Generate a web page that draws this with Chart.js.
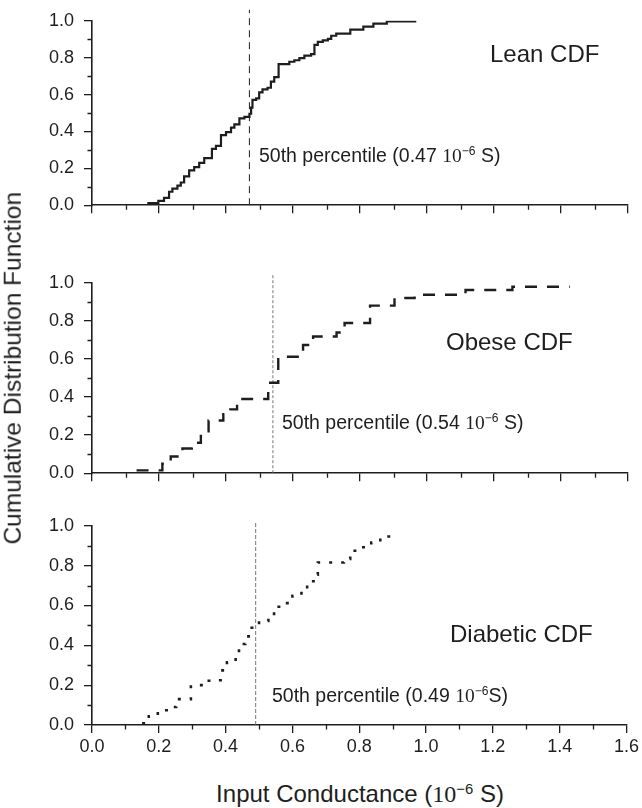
<!DOCTYPE html>
<html><head><meta charset="utf-8">
<script src="https://cdn.jsdelivr.net/npm/chart.js@4.4.1/dist/chart.umd.min.js"></script>
<style>
body{margin:0;background:#fff;width:642px;height:808px;position:relative;overflow:hidden;font-family:"Liberation Sans",Arial,sans-serif;color:#1e1e1e;}
.pc{position:absolute;left:0;width:642px;}
.t{position:absolute;white-space:nowrap;line-height:1;}
.ser{font-family:"Liberation Serif","Times New Roman",serif;}
.sup{font-size:0.62em;position:relative;top:-0.55em;}
</style></head><body>
<div class="pc" style="top:0px;height:226px"><canvas id="c0" width="642" height="226"></canvas></div>
<div class="pc" style="top:262px;height:232px"><canvas id="c1" width="642" height="232"></canvas></div>
<div class="pc" style="top:505px;height:260px"><canvas id="c2" width="642" height="260"></canvas></div>

<div class="t" style="left:490px;top:42px;font-size:24px">Lean CDF</div>
<div class="t" style="left:446px;top:330px;font-size:24px">Obese CDF</div>
<div class="t" style="left:450px;top:622px;font-size:24px">Diabetic CDF</div>

<div class="t" style="left:259px;top:146px;font-size:19.5px">50th percentile (0.47 <span class="ser">10</span><span class="sup">&minus;6</span> S)</div>
<div class="t" style="left:282px;top:413px;font-size:19.5px">50th percentile (0.54 <span class="ser">10</span><span class="sup">&minus;6</span> S)</div>
<div class="t" style="left:272px;top:686px;font-size:19.5px">50th percentile (0.49 <span class="ser">10</span><span class="sup">&minus;6</span>S)</div>

<div class="t" style="left:360px;top:782px;font-size:24px;transform:translateX(-50%)">Input Conductance (<span class="ser">10</span><span class="sup">&minus;6</span> S)</div>
<div class="t" style="left:-167px;top:356px;width:360px;text-align:center;font-size:24.5px;transform:rotate(-90deg)">Cumulative Distribution Function</div>

<script>
const xTickValues = [0, 0.2, 0.4, 0.6, 0.8, 1.0, 1.2, 1.4, 1.6];
const yTickValues = [0, 0.2, 0.4, 0.6, 0.8, 1.0];

const leanX = [0.165,0.198,0.215,0.230,0.240,0.255,0.265,0.275,0.290,0.305,0.320,0.335,0.358,0.370,0.385,0.400,0.415,0.425,0.440,0.455,0.470,0.475,0.479,0.490,0.499,0.509,0.524,0.534,0.544,0.557,0.589,0.604,0.619,0.634,0.654,0.664,0.674,0.689,0.704,0.714,0.729,0.771,0.810,0.840,0.880,0.968];
const leanP = [0.011,0.023,0.040,0.073,0.090,0.106,0.123,0.156,0.189,0.206,0.230,0.255,0.305,0.322,0.380,0.396,0.421,0.438,0.471,0.479,0.496,0.529,0.571,0.579,0.612,0.628,0.637,0.670,0.695,0.765,0.778,0.786,0.798,0.811,0.819,0.869,0.886,0.894,0.902,0.919,0.930,0.952,0.968,0.985,0.997,0.997];

const obeseX = [0.133,0.210,0.235,0.270,0.298,0.325,0.348,0.392,0.413,0.433,0.526,0.556,0.630,0.660,0.730,0.754,0.830,0.903,0.963,1.115,1.255,1.426];
const obeseP = [0.015,0.050,0.088,0.130,0.160,0.220,0.277,0.310,0.335,0.390,0.475,0.612,0.673,0.718,0.739,0.789,0.880,0.920,0.937,0.962,0.979,0.979];

const diabeticX = [0.150,0.170,0.197,0.232,0.252,0.296,0.328,0.370,0.385,0.404,0.430,0.440,0.459,0.478,0.500,0.528,0.545,0.578,0.600,0.627,0.644,0.669,0.676,0.721,0.754,0.773,0.808,0.836,0.863,0.895];
const diabeticP = [0.008,0.044,0.074,0.090,0.130,0.200,0.222,0.225,0.274,0.315,0.351,0.407,0.445,0.488,0.522,0.550,0.594,0.612,0.649,0.678,0.722,0.755,0.816,0.816,0.834,0.875,0.892,0.916,0.946,0.966];

const medians = [0.47, 0.54, 0.49];

const FONT = '"Liberation Sans", Arial, sans-serif';
const INK = '#1e1e1e';

const minorTicks = {
  id: 'minorTicks',
  afterDraw(chart) {
    const ctx = chart.ctx, xs = chart.scales.x, ys = chart.scales.y;
    ctx.save();
    ctx.strokeStyle = INK; ctx.lineWidth = 1.3;
    ctx.beginPath();
    for (let i = 0; i < xTickValues.length - 1; i++) {
      const v = (xTickValues[i] + xTickValues[i+1]) / 2;
      const px = Math.round(xs.getPixelForValue(v)) + 0.5;
      ctx.moveTo(px, ys.bottom); ctx.lineTo(px, ys.bottom + 4.5);
    }
    for (let i = 0; i < yTickValues.length - 1; i++) {
      const v = (yTickValues[i] + yTickValues[i+1]) / 2;
      const py = Math.round(ys.getPixelForValue(v)) + 0.5;
      ctx.moveTo(xs.left, py); ctx.lineTo(xs.left - 4.5, py);
    }
    ctx.stroke();
    ctx.restore();
  }
};

function makePanel(id, xs, ps, lineStyle, median, medStyle, showX, padTop, xAxisH, medTop) {
  const pts = xs.map((x, i) => ({x: x, y: ps[i]}));
  const tickFont = {family: FONT, size: 18};
  new Chart(document.getElementById(id), {
    type: 'scatter',
    data: {datasets: [
      Object.assign({data: pts, showLine: true, stepped: 'before', borderColor: INK, pointRadius: 0, fill: false}, lineStyle),
      Object.assign({data: [{x: median, y: 0}, {x: median, y: medTop}], showLine: true, pointRadius: 0, fill: false, clip: false}, medStyle)
    ]},
    options: {
      responsive: false, animation: false, devicePixelRatio: 1,
      layout: {padding: {top: padTop, right: 14, left: 0, bottom: 0}},
      plugins: {legend: {display: false}, tooltip: {enabled: false}},
      scales: {
        x: {
          type: 'linear', min: 0, max: 1.6,
          afterFit: s => { s.height = xAxisH; },
          afterBuildTicks: s => { s.ticks = xTickValues.map(v => ({value: v})); },
          ticks: {display: showX, callback: v => Number(v).toFixed(1), font: tickFont, color: INK, padding: 3, maxRotation: 0, autoSkip: false},
          grid: {display: true, drawOnChartArea: false, drawTicks: true, tickLength: 8, color: INK, lineWidth: 1.3},
          border: {display: true, color: INK, width: 1.6}
        },
        y: {
          type: 'linear', min: 0, max: 1,
          afterFit: s => { s.width = 92; },
          afterBuildTicks: s => { s.ticks = yTickValues.map(v => ({value: v})); },
          ticks: {callback: v => Number(v).toFixed(1), font: tickFont, color: INK, padding: 10},
          grid: {display: true, drawOnChartArea: false, drawTicks: true, tickLength: 8, color: INK, lineWidth: 1.3},
          border: {display: true, color: INK, width: 1.6}
        }
      }
    },
    plugins: [minorTicks]
  });
}

makePanel('c0', leanX, leanP, {borderWidth: 2.2},
  medians[0], {borderColor: '#333', borderWidth: 1.1, borderDash: [7, 5]}, false, 12, 13, 1.06);
makePanel('c1', obeseX, obeseP, {borderWidth: 2.4, borderDash: [12, 10]},
  medians[1], {borderColor: '#666', borderWidth: 0.9, borderDash: [3, 2]}, false, 17, 13, 1.04);
makePanel('c2', diabeticX, diabeticP, {borderWidth: 2.6, borderDash: [3, 9]},
  medians[2], {borderColor: '#666', borderWidth: 0.9, borderDash: [4, 2]}, true, 17, 40, 1.02);
</script>
</body></html>
